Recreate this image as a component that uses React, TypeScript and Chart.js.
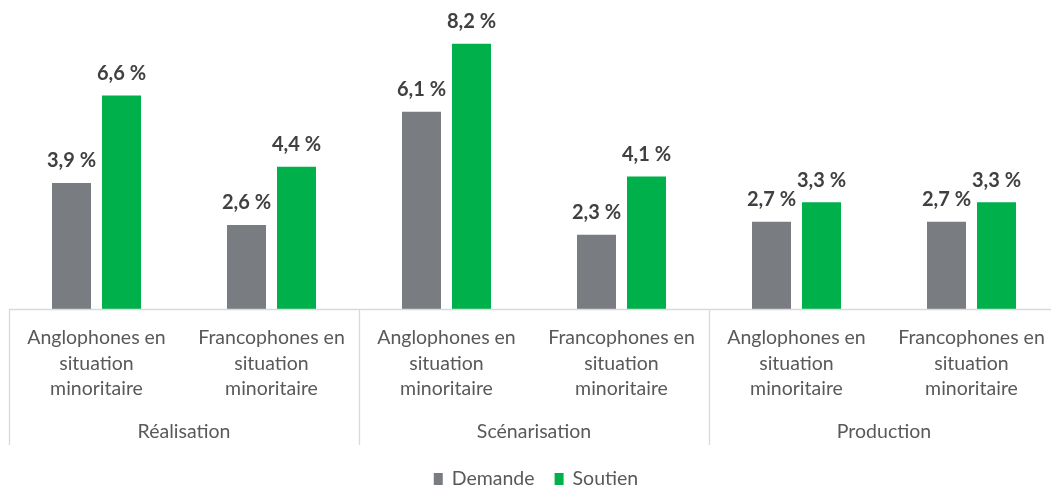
import React, { useEffect, useRef } from "react";
import { Chart, registerables } from "chart.js";

Chart.register(...registerables);

const categories: string[][] = [
  ["Anglophones en", "situation", "minoritaire"],
  ["Francophones en", "situation", "minoritaire"],
  ["Anglophones en", "situation", "minoritaire"],
  ["Francophones en", "situation", "minoritaire"],
  ["Anglophones en", "situation", "minoritaire"],
  ["Francophones en", "situation", "minoritaire"],
];
const groups = ["Réalisation", "Scénarisation", "Production"];
const demande = [3.9, 2.6, 6.1, 2.3, 2.7, 2.7];
const soutien = [6.6, 4.4, 8.2, 4.1, 3.3, 3.3];
const seriesNames = ["Demande", "Soutien"];
const seriesColors = ["#797c80", "#00b04a"];

const FONT = "Lato, 'Open Sans', sans-serif";

const fmt = (v: number) => v.toFixed(1).replace(".", ",") + " %";

const overlay = {
  id: "overlay",
  afterDraw(chart: any) {
    const ctx = chart.ctx;
    const x = chart.scales.x;
    const y = chart.scales.y;
    const area = chart.chartArea;
    const y0 = Math.round(y.getPixelForValue(0));
    const half = (x.getPixelForValue(1) - x.getPixelForValue(0)) / 2;
    ctx.save();
    // axis line
    ctx.strokeStyle = "#d9d9d9";
    ctx.lineWidth = 1.3;
    ctx.beginPath();
    ctx.moveTo(area.left, y0 + 0.5);
    ctx.lineTo(area.right, y0 + 0.5);
    ctx.stroke();
    // separators
    for (let g = 0; g <= groups.length; g++) {
      const xp = Math.round(x.getPixelForValue(g * 2) - half) + 0.5;
      ctx.beginPath();
      ctx.moveTo(xp, y0);
      ctx.lineTo(xp, y0 + 136);
      ctx.stroke();
    }
    // category labels
    ctx.fillStyle = "#595959";
    ctx.font = `19.5px ${FONT}`;
    ctx.textAlign = "center";
    ctx.textBaseline = "middle";
    categories.forEach((lines, i) => {
      const cx = x.getPixelForValue(i);
      lines.forEach((ln, j) => {
        ctx.fillText(ln, cx, y0 + 29 + j * 25.5);
      });
    });
    // group labels
    groups.forEach((g, i) => {
      const cx = (x.getPixelForValue(i * 2) + x.getPixelForValue(i * 2 + 1)) / 2;
      ctx.fillText(g, cx, y0 + 123);
    });
    // data labels
    ctx.fillStyle = "#404040";
    ctx.font = `bold 20px ${FONT}`;
    chart.data.datasets.forEach((ds: any, d: number) => {
      const meta = chart.getDatasetMeta(d);
      meta.data.forEach((bar: any, i: number) => {
        ctx.fillText(fmt(ds.data[i]), bar.x, bar.y - 22);
      });
    });
    // legend
    ctx.font = `19.5px ${FONT}`;
    ctx.textAlign = "left";
    const box = 9;
    const gapText = 9;
    const gapItem = 20;
    const widths = seriesNames.map((n) => box + gapText + ctx.measureText(n).width);
    const total = widths.reduce((a, b) => a + b, 0) + gapItem * (widths.length - 1);
    let lx = (area.left + area.right) / 2 - total / 2 + 2;
    const ly = 479;
    seriesNames.forEach((n, i) => {
      ctx.fillStyle = seriesColors[i];
      ctx.fillRect(lx, ly - 6, box, 12);
      ctx.fillStyle = "#595959";
      ctx.fillText(n, lx + box + gapText, ly);
      lx += widths[i] + gapItem;
    });
    ctx.restore();
  },
};

export default function App() {
  const ref = useRef<HTMLCanvasElement>(null);
  useEffect(() => {
    document.body.style.margin = "0";
    document.body.style.overflow = "hidden";
    const chart = new Chart(ref.current!, {
      type: "bar",
      data: {
        labels: categories.map((c) => c.join(" ")),
        datasets: [
          {
            label: seriesNames[0],
            data: demande,
            backgroundColor: seriesColors[0],
            categoryPercentage: 0.5714,
            barPercentage: 0.78,
          },
          {
            label: seriesNames[1],
            data: soutien,
            backgroundColor: seriesColors[1],
            categoryPercentage: 0.5714,
            barPercentage: 0.78,
          },
        ],
      },
      options: {
        responsive: false,
        animation: false,
        devicePixelRatio: 1,
        layout: { padding: { left: 9, right: 11, top: 18, bottom: 178 } },
        plugins: { legend: { display: false }, tooltip: { enabled: false } },
        scales: {
          x: { display: false },
          y: { display: false, min: 0, max: 9 },
        },
      },
      plugins: [overlay],
    });
    return () => chart.destroy();
  }, []);
  return (
    <div style={{ width: 1051, height: 487, overflow: "hidden", position: "relative", background: "#fff" }}>
      <canvas ref={ref} width={1070} height={487} style={{ display: "block" }} />
    </div>
  );
}
